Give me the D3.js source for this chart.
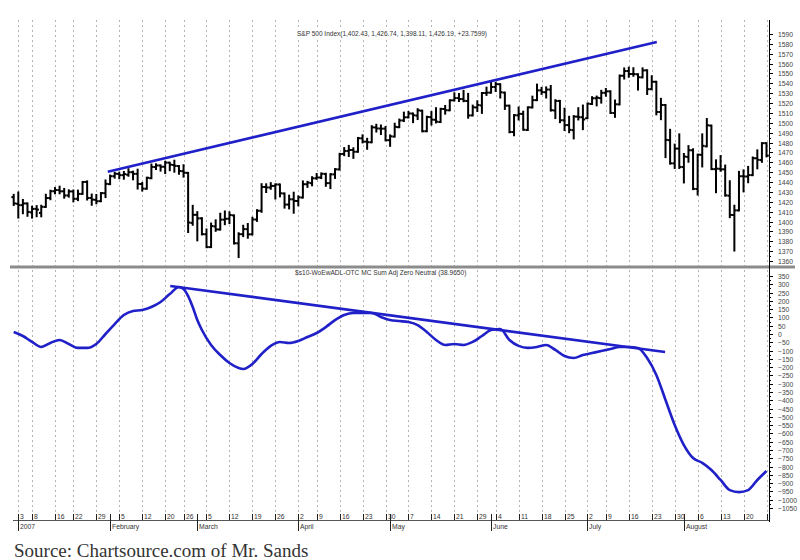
<!DOCTYPE html>
<html>
<head>
<meta charset="utf-8">
<script src="https://cdn.jsdelivr.net/npm/d3@7"></script>
<style>
body { margin: 0; background: #fff; }
svg { display: block; font-family: "Liberation Sans", Arial, sans-serif; }
</style>
</head>
<body>
<svg id="chart" width="800" height="560"></svg>
<script>
// trading days, 29 Dec 2006 .. 27 Aug 2007
var dates = ['12-29',
  '01-03','01-04','01-05','01-08','01-09','01-10','01-11','01-12','01-16','01-17','01-18','01-19','01-22','01-23','01-24','01-25','01-26','01-29','01-30','01-31',
  '02-01','02-02','02-05','02-06','02-07','02-08','02-09','02-12','02-13','02-14','02-15','02-16','02-20','02-21','02-22','02-23','02-26','02-27','02-28',
  '03-01','03-02','03-05','03-06','03-07','03-08','03-09','03-12','03-13','03-14','03-15','03-16','03-19','03-20','03-21','03-22','03-23','03-26','03-27','03-28','03-29','03-30',
  '04-02','04-03','04-04','04-05','04-09','04-10','04-11','04-12','04-13','04-16','04-17','04-18','04-19','04-20','04-23','04-24','04-25','04-26','04-27','04-30',
  '05-01','05-02','05-03','05-04','05-07','05-08','05-09','05-10','05-11','05-14','05-15','05-16','05-17','05-18','05-21','05-22','05-23','05-24','05-25','05-29','05-30','05-31',
  '06-01','06-04','06-05','06-06','06-07','06-08','06-11','06-12','06-13','06-14','06-15','06-18','06-19','06-20','06-21','06-22','06-25','06-26','06-27','06-28','06-29',
  '07-02','07-03','07-05','07-06','07-09','07-10','07-11','07-12','07-13','07-16','07-17','07-18','07-19','07-20','07-23','07-24','07-25','07-26','07-27','07-30','07-31',
  '08-01','08-02','08-03','08-06','08-07','08-08','08-09','08-10','08-13','08-14','08-15','08-16','08-17','08-20','08-21','08-22','08-23','08-24','08-27'];

var open = [1424.7,
  1418.0,1416.6,1418.3,1409.3,1412.8,1408.7,1414.8,1423.8,1430.7,1431.8,1430.6,1426.4,1430.5,1423.0,1428.0,1440.1,1423.9,1422.0,1420.6,1428.7,
  1437.9,1445.9,1448.3,1447.0,1447.4,1450.0,1448.3,1438.0,1433.2,1443.9,1455.2,1456.8,1455.5,1459.6,1457.3,1456.2,1451.0,1449.3,1398.6,
  1406.8,1403.2,1387.1,1374.1,1395.0,1391.9,1401.9,1402.8,1406.2,1377.9,1387.1,1392.3,1387.0,1402.0,1410.9,1435.0,1434.5,1436.1,1437.5,1428.4,1417.2,1422.5,
  1420.8,1424.3,1437.8,1438.9,1443.8,1444.6,1448.2,1438.9,1447.8,1452.8,1468.5,1471.5,1472.5,1470.7,1484.3,1480.9,1480.3,1495.3,1494.2,1494.1,
  1482.4,1486.1,1495.6,1502.4,1505.6,1509.4,1507.3,1512.3,1491.5,1505.8,1503.1,1500.8,1514.0,1512.7,1522.8,1525.1,1524.1,1522.1,1507.5,1515.6,1517.6,1530.2,
  1530.6,1536.3,1539.1,1530.6,1517.4,1490.7,1507.6,1509.1,1492.7,1515.6,1523.0,1532.9,1531.0,1533.7,1512.5,1522.2,1502.6,1497.7,1492.6,1506.3,1505.7,
  1504.7,1519.1,1524.9,1525.0,1530.4,1531.9,1509.9,1518.7,1547.7,1552.5,1549.5,1549.2,1546.1,1553.2,1534.1,1541.6,1511.0,1518.1,1482.4,1458.9,1473.9,
  1455.2,1465.5,1472.2,1433.0,1467.6,1476.2,1497.2,1453.1,1453.4,1452.9,1426.2,1406.6,1411.3,1445.9,1445.6,1447.0,1464.1,1462.3,1479.4];

var high = [1427.0,
  1429.4,1421.8,1418.3,1415.0,1415.6,1416.0,1427.1,1431.2,1433.9,1435.3,1433.0,1431.6,1431.4,1431.3,1440.1,1440.7,1427.3,1426.9,1428.8,1441.6,
  1446.6,1449.3,1449.4,1450.2,1453.0,1450.5,1452.5,1439.1,1444.4,1457.7,1458.0,1456.8,1460.5,1459.6,1461.6,1456.2,1457.0,1449.3,1415.9,
  1409.5,1403.4,1391.9,1397.9,1401.2,1407.9,1410.2,1409.3,1406.2,1388.1,1395.7,1397.5,1403.8,1411.5,1437.8,1437.7,1438.9,1437.7,1437.5,1428.4,1426.2,1429.2,
  1425.5,1440.6,1440.2,1444.9,1448.1,1448.7,1448.4,1448.0,1453.1,1468.6,1474.4,1476.6,1474.2,1484.7,1487.3,1483.8,1496.6,1498.0,1497.3,1495.7,
  1487.3,1499.1,1503.3,1510.3,1511.0,1509.4,1513.8,1512.3,1506.2,1510.9,1514.8,1514.2,1517.1,1522.8,1529.9,1529.2,1532.4,1529.3,1517.4,1521.8,1530.2,1535.6,
  1540.6,1540.5,1539.1,1530.6,1517.4,1507.8,1515.5,1511.3,1515.7,1526.5,1538.7,1535.4,1535.9,1537.3,1522.9,1522.2,1514.3,1506.1,1506.8,1514.8,1517.5,
  1519.5,1526.0,1526.6,1532.4,1534.3,1531.9,1522.6,1547.9,1555.1,1555.9,1555.3,1549.2,1555.2,1553.2,1547.2,1541.6,1524.3,1518.1,1492.9,1477.9,1488.3,
  1468.4,1476.4,1473.2,1467.7,1488.3,1503.9,1497.2,1462.0,1466.3,1456.7,1440.8,1416.0,1450.3,1451.8,1455.3,1464.9,1472.1,1479.4,1479.4];

var low = [1416.8,
  1404.0,1408.4,1405.8,1404.0,1405.4,1405.3,1414.8,1422.6,1428.6,1428.6,1424.2,1425.2,1420.4,1421.7,1428.0,1422.3,1417.0,1418.5,1420.6,1424.8,
  1437.9,1444.5,1443.9,1443.4,1446.4,1442.8,1433.4,1431.4,1433.2,1443.9,1453.2,1451.6,1449.2,1452.0,1450.5,1448.4,1445.5,1389.4,1396.7,
  1380.9,1386.9,1374.0,1374.1,1390.6,1391.9,1397.3,1398.4,1377.7,1364.0,1385.2,1383.6,1387.0,1400.7,1409.8,1429.9,1433.2,1423.3,1425.5,1414.1,1413.3,1408.9,
  1416.4,1424.3,1435.1,1436.7,1443.3,1444.0,1436.2,1433.9,1444.2,1452.8,1467.2,1466.4,1464.5,1470.7,1480.2,1473.7,1480.3,1491.2,1488.7,1482.3,
  1476.7,1486.1,1495.6,1501.8,1505.5,1500.7,1503.8,1491.4,1491.5,1498.3,1500.4,1500.8,1509.3,1512.7,1522.7,1522.1,1521.9,1505.2,1507.5,1512.0,1510.1,1528.3,
  1530.6,1532.3,1525.6,1514.1,1490.4,1487.4,1503.4,1493.0,1492.7,1515.6,1523.0,1529.3,1525.7,1512.4,1504.8,1500.7,1492.7,1490.5,1484.2,1503.4,1493.6,
  1504.7,1519.1,1517.7,1520.5,1527.5,1510.0,1506.1,1518.7,1544.9,1546.7,1547.7,1533.7,1546.1,1529.2,1534.1,1508.6,1503.7,1465.3,1458.6,1454.3,1454.3,
  1439.6,1460.6,1432.8,1427.4,1455.8,1476.2,1453.1,1429.7,1451.5,1426.2,1404.4,1370.6,1411.3,1430.5,1439.8,1447.0,1453.9,1460.5,1466.0];

var close = [1418.3,
  1416.6,1418.3,1409.7,1412.8,1412.1,1414.9,1423.8,1430.7,1431.9,1430.6,1426.4,1430.5,1423.0,1428.0,1440.1,1423.9,1422.2,1420.6,1428.8,1438.2,
  1445.9,1448.4,1447.0,1448.0,1450.0,1448.3,1438.1,1433.4,1444.3,1455.3,1456.8,1455.5,1459.7,1457.6,1456.4,1451.2,1449.4,1399.0,1406.8,
  1403.2,1387.2,1374.1,1395.4,1392.0,1401.9,1402.8,1406.6,1378.0,1387.2,1392.3,1387.0,1402.1,1410.9,1435.0,1434.5,1436.1,1437.5,1428.6,1417.2,1422.5,1420.9,
  1424.6,1437.8,1439.4,1443.8,1444.6,1448.4,1438.9,1447.8,1452.9,1468.3,1471.5,1472.5,1470.7,1484.4,1480.9,1480.4,1495.4,1494.3,1494.1,1482.4,
  1486.3,1495.9,1502.4,1505.6,1509.5,1507.7,1512.6,1491.5,1505.9,1503.2,1501.2,1514.1,1512.8,1522.8,1525.1,1524.1,1522.3,1507.5,1515.7,1518.1,1530.2,1530.6,
  1536.3,1539.2,1531.0,1517.4,1490.7,1507.7,1509.1,1493.0,1515.7,1523.0,1532.9,1531.1,1533.7,1512.8,1522.2,1502.6,1497.7,1492.9,1506.3,1505.7,1503.4,
  1519.4,1524.9,1525.4,1530.4,1531.9,1510.1,1518.8,1547.7,1552.5,1549.5,1549.4,1546.2,1553.1,1534.1,1541.6,1511.0,1518.1,1482.7,1459.0,1473.9,1455.3,
  1465.8,1472.2,1433.1,1467.7,1476.7,1497.5,1453.1,1453.6,1452.9,1426.5,1406.7,1411.3,1445.9,1445.6,1447.1,1464.1,1462.5,1479.4,1466.8];

// oscillator readings (trading-day index, value)
var oscDay = [0,2,4,6,8,10,12,14,16,18,20,22,24,26,28,30,32,34,36,37,38,39,40,41,43,45,47,49,50,52,54,56,58,60,62,64,66,68,70,72,74,76,78,80,82,84,86,88,90,92,94,96,98,100,102,104,106,108,110,112,114,116,118,120,122,124,126,128,130,132,134,136,138,140,142,144,146,148,150,152,154,156,158,160,162,164];
var oscValue = [12,-12,-48,-78,-54,-36,-60,-84,-84,-60,0,60,115,139,145,163,193,241,284,272,229,163,84,24,-66,-127,-175,-205,-211,-181,-121,-72,-48,-54,-42,-18,6,42,84,115,127,127,127,103,84,78,72,54,12,-36,-66,-60,-66,-48,-12,24,30,-36,-72,-84,-78,-66,-96,-133,-145,-127,-115,-103,-90,-78,-78,-84,-145,-247,-398,-549,-670,-748,-778,-821,-881,-942,-954,-942,-881,-827];

// hand-drawn trend lines [day index, value]
var priceTrend = [[20.5, 1450.5], [140.1, 1582]];
var oscTrend = [[34.1, 290], [141.9, -109]];

var weekTicks = ['01-03','01-08','01-16','01-22','01-29','02-05','02-12','02-20','02-26','03-05','03-12','03-19','03-26','04-02','04-09','04-16','04-23','04-30','05-07','05-14','05-21','05-29','06-04','06-11','06-18','06-25','07-02','07-09','07-16','07-23','07-30','08-06','08-13','08-20','08-27'];
var weekLabels = ['3','8','16','22','29','5','12','20','26','5','12','19','26','2','9','16','23','30','7','14','21','29','4','11','18','25','2','9','16','23','30','6','13','20',':'];
var monthTicks = ['01-03','02-01','03-01','04-02','05-01','06-01','07-02','08-01'];
var monthLabels = ['2007','February','March','April','May','June','July','August'];

var priceTicks = d3.range(1360, 1591, 10);
var oscTicks = d3.range(-1050, 351, 50);

var priceTitle = 'S&P 500 Index(1,402.43, 1,426.74, 1,398.11, 1,426.19, +23.7599)';
var oscTitle = '$s10-WoEwADL-OTC MC Sum Adj Zero Neutral (38.9650)';
var caption = 'Source: Chartsource.com of Mr. Sands';

var svg = d3.select('#chart');
var idx = {};
dates.forEach(function(d, i){ idx[d] = i; });

var axisX = 769, plotLeft = 10, plotTop = 20, divY = 267, baseY = 520;
var x = d3.scaleLinear().domain([0, dates.length - 1]).range([13.7, 766.5]);
var yP = d3.scaleLinear().domain([1360, 1590]).range([261, 34]);
var yO = d3.scaleLinear().domain([-1050, 350]).range([508, 276]);
var blue = '#2020c8';

// dotted vertical grid
svg.append('g').selectAll('line').data(weekTicks).enter().append('line')
	.attr('x1', function(d){ return Math.round(x(idx[d])) + 0.5; })
	.attr('x2', function(d){ return Math.round(x(idx[d])) + 0.5; })
	.attr('y1', plotTop).attr('y2', baseY)
	.attr('stroke', '#b4b4b4').attr('stroke-width', 1).attr('stroke-dasharray', '2,3');

// panel divider
svg.append('rect').attr('x', plotLeft).attr('y', divY - 1.5).attr('width', 785).attr('height', 3).attr('fill', '#8c8c8c');

// titles, on a white patch that hides the grid
var title = function(tx, ty, size, str){
	var g = svg.append('g');
	var bg = g.append('rect').attr('fill', '#fff');
	var t = g.append('text').attr('x', tx).attr('y', ty).attr('font-size', size).attr('fill', '#333').text(str);
	var b = t.node().getBBox();
	bg.attr('x', b.x - 3).attr('y', b.y).attr('width', b.width + 6).attr('height', b.height);
};
title(297, 36, 6.5, priceTitle);
title(295, 275, 6.6, oscTitle);

// OHLC bars
var bars = svg.append('g').attr('stroke', '#000').attr('stroke-width', 2).attr('fill', 'none');
dates.forEach(function(d, i){
	var cx = x(i);
	bars.append('line').attr('x1', cx).attr('x2', cx).attr('y1', yP(high[i]) - 1).attr('y2', yP(low[i]) + 1);
	bars.append('line').attr('x1', cx - 2.3).attr('x2', cx).attr('y1', yP(open[i])).attr('y2', yP(open[i]));
	bars.append('line').attr('x1', cx).attr('x2', cx + 2.3).attr('y1', yP(close[i])).attr('y2', yP(close[i]));
});

// trend lines
svg.append('path').datum(priceTrend)
	.attr('d', d3.line().x(function(d){ return x(d[0]); }).y(function(d){ return yP(d[1]); }))
	.attr('stroke', blue).attr('stroke-width', 2.6).attr('fill', 'none');
svg.append('path').datum(oscTrend)
	.attr('d', d3.line().x(function(d){ return x(d[0]); }).y(function(d){ return yO(d[1]); }))
	.attr('stroke', blue).attr('stroke-width', 2.6).attr('fill', 'none');

// oscillator line
svg.append('path').datum(oscDay)
	.attr('d', d3.line().curve(d3.curveMonotoneX)
		.x(function(d){ return x(d); })
		.y(function(d, i){ return yO(oscValue[i]); }))
	.attr('stroke', blue).attr('stroke-width', 2.6).attr('fill', 'none');

// right axes
svg.append('line').attr('x1', axisX + 0.5).attr('x2', axisX + 0.5).attr('y1', plotTop).attr('y2', baseY + 2)
	.attr('stroke', '#000').attr('stroke-width', 1);
var drawAxis = function(scale, ticks, step){
	var g = svg.append('g');
	ticks.forEach(function(t){
		var y = Math.round(scale(t)) + 0.5;
		g.append('line').attr('x1', axisX).attr('x2', axisX + 4).attr('y1', y).attr('y2', y).attr('stroke', '#000');
		var ym = Math.round(scale(t + step / 2)) + 0.5;
		if (t + step / 2 <= scale.domain()[1])
			g.append('line').attr('x1', axisX).attr('x2', axisX + 2).attr('y1', ym).attr('y2', ym).attr('stroke', '#000');
		g.append('text').attr('x', 778).attr('y', y + 2.4).attr('font-size', 6.8).attr('fill', '#444')
			.text(t < 0 ? '\u2212' + Math.abs(t) : t);
	});
};
drawAxis(yP, priceTicks, 10);
drawAxis(yO, oscTicks, 50);

// date axis
svg.append('line').attr('x1', plotLeft + 3).attr('x2', axisX).attr('y1', baseY + 0.5).attr('y2', baseY + 0.5)
	.attr('stroke', '#555').attr('stroke-width', 1);
var xa = svg.append('g');
weekTicks.forEach(function(d, k){
	var tx = Math.round(x(idx[d])) + 0.5;
	xa.append('line').attr('x1', tx).attr('x2', tx).attr('y1', baseY - 6).attr('y2', baseY).attr('stroke', '#222');
	xa.append('text').attr('x', tx + 1.5).attr('y', baseY - 1.5).attr('font-size', 6.8).attr('fill', '#333').text(weekLabels[k]);
});
monthTicks.forEach(function(d, k){
	var tx = Math.round(x(idx[d])) + 0.5;
	xa.append('line').attr('x1', tx).attr('x2', tx).attr('y1', baseY - 6).attr('y2', baseY + 11).attr('stroke', '#222');
	xa.append('text').attr('x', tx + 1.5).attr('y', baseY + 9).attr('font-size', 6.8).attr('fill', '#333').text(monthLabels[k]);
});

// caption
svg.append('text').attr('x', 14).attr('y', 557).attr('font-family', '"Liberation Serif", serif')
	.attr('font-size', 19).attr('fill', '#333').text(caption);
</script>
</body>
</html>
